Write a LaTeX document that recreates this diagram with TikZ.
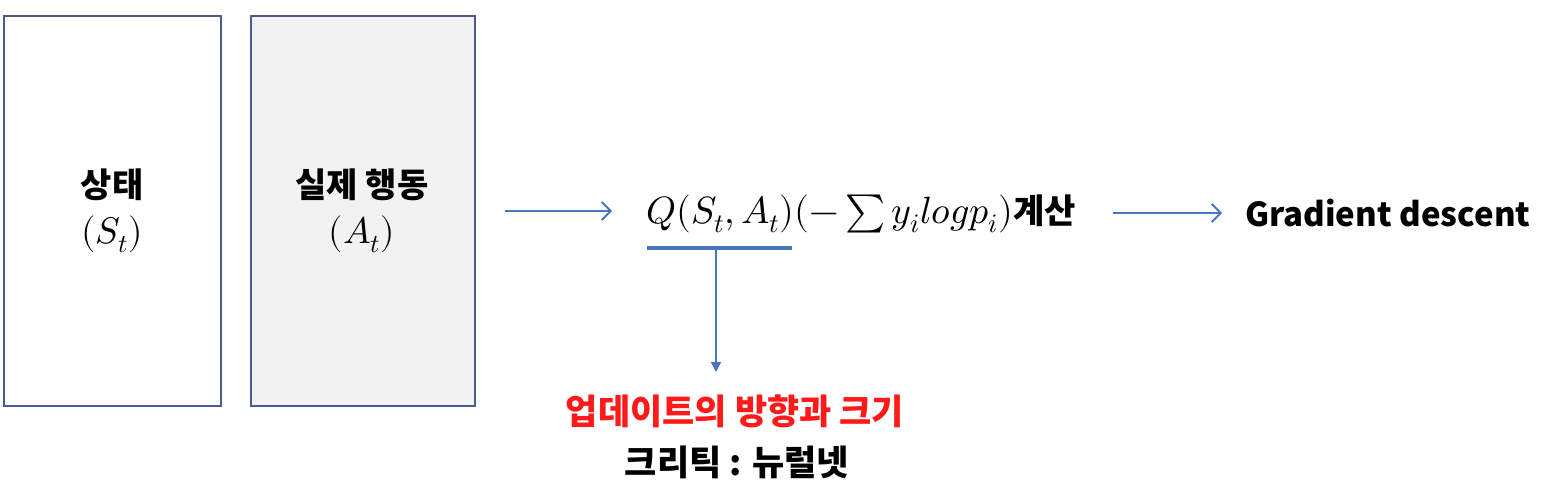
\documentclass[tikz,border=0pt]{standalone}
\usepackage{fontspec}
\usepackage{unicode-math}
\setmathfont{Latin Modern Math}
\usetikzlibrary{arrows.meta}
\newfontfamily\kr{Noto Sans CJK KR}
\definecolor{boxline}{HTML}{4A5C8C}
\definecolor{arrblue}{HTML}{4A76C0}
\definecolor{boxfill}{HTML}{F2F2F2}
\definecolor{redtxt}{HTML}{FF1A1A}
\tikzset{
  panel/.style={draw=boxline, line width=2.2pt, inner sep=0pt, anchor=north west},
  lbl/.style={font=\kr\bfseries\fontsize{34}{46}\selectfont, align=center, inner sep=0pt},
  flow/.style={draw=arrblue, line width=1.8pt, -{Straight Barb[length=9pt,width=18pt,line width=1.8pt]}},
  down/.style={draw=arrblue, line width=1.5pt, -{Triangle[length=10pt,width=10pt]}},
}
\begin{document}
\begin{tikzpicture}[x=1pt,y=-1pt]
\useasboundingbox (0,0) rectangle (1543,484);
\node[panel, minimum width=217pt, minimum height=390pt] (s) at (3,15) {};
\node[panel, fill=boxfill, minimum width=224pt, minimum height=390pt] (a) at (250,15) {};
\node[lbl] (sl) at (112,211) {상태\\{\fontsize{37}{46}\selectfont$(S_t)$}};
\node[lbl] (al) at (362,211) {실제 행동\\{\fontsize{37}{46}\selectfont$(A_t)$}};
\node[inner sep=0pt, anchor=west] (f) at (646,214) {\fontsize{38}{44}\selectfont $Q(S_t,A_t)(-\textstyle\sum y_i logp_i)$\kr\bfseries\fontsize{34}{40}\selectfont 계산};
\node[inner sep=0pt, anchor=west, font=\kr\bfseries\fontsize{33}{40}\selectfont] (g) at (1245,213) {Gradient descent};
\coordinate (a1s) at (505,211);
\coordinate (a1e) at (612,211);
\draw[flow] (a1s) -- (a1e);
\coordinate (a2s) at (1113,213);
\coordinate (a2e) at (1222,213);
\draw[flow] (a2s) -- (a2e);
\coordinate (ul) at (647,248);
\coordinate (ur) at (792,248);
\draw[arrblue, line width=3.5pt] (ul) -- (ur);
\coordinate (vt) at (716,248);
\node[inner sep=0pt, text=redtxt, font=\kr\bfseries\fontsize{35}{40}\selectfont] (u) at (735,411) {업데이트의 방향과 크기};
\node[inner sep=0pt, font=\kr\bfseries\fontsize{35}{40}\selectfont] (c) at (737,462) {크리틱 : 뉴럴넷};
\coordinate (vb) at (716,372);
\draw[down] (vt) -- (vb);
\end{tikzpicture}
\end{document}
